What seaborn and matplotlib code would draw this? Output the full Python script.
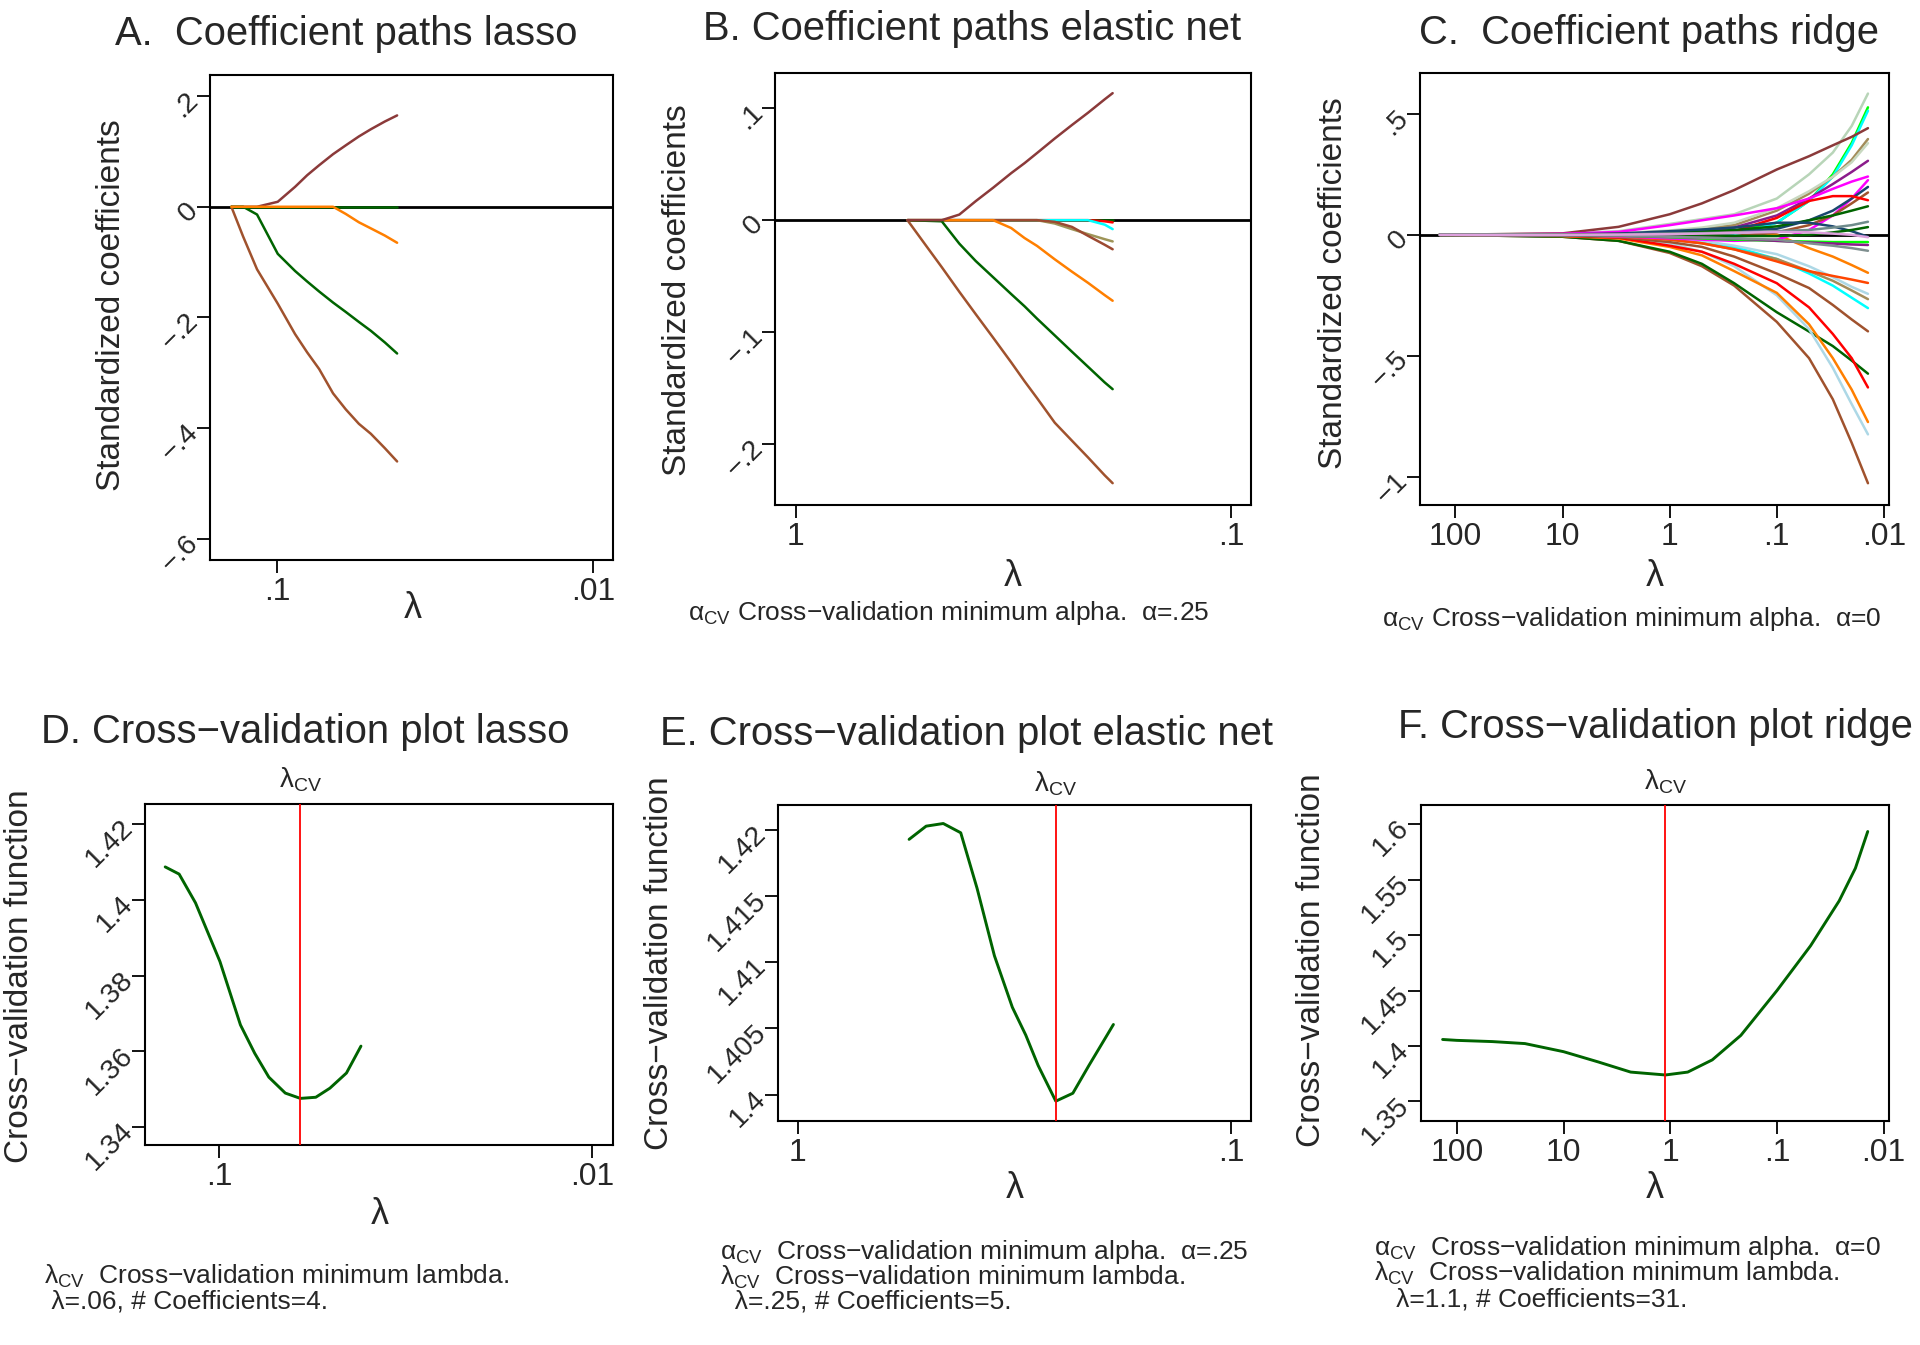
import numpy as np
import pandas as pd
import matplotlib
matplotlib.use("Agg")
import matplotlib.pyplot as plt
import seaborn as sns

sns.set_theme(style="ticks")
plt.rcParams['font.family'] = ['Liberation Sans', 'DejaVu Sans']
plt.rcParams['mathtext.default'] = 'regular'

# ---------------- data ----------------
# Panel A / D : lasso lambda grid
lamA = [0.1395, 0.128, 0.1157, 0.0995, 0.0877, 0.0803, 0.0736, 0.0665, 0.0606, 0.0551, 0.0505, 0.0456, 0.0417]
A_zero = [0.0] * 13
A_maroon = [0, 0, 0, 0.009, 0.036, 0.057, 0.075, 0.095, 0.111, 0.127, 0.140, 0.154, 0.165]
A_sienna = [0, -0.054, -0.113, -0.175, -0.230, -0.263, -0.293, -0.337, -0.366, -0.392, -0.410, -0.436, -0.460]
A_green = [0, 0, -0.014, -0.085, -0.116, -0.135, -0.153, -0.173, -0.190, -0.208, -0.224, -0.245, -0.265]
A_orange = [0, 0, 0, 0, 0, 0, 0, 0, -0.013, -0.028, -0.039, -0.052, -0.065]
cvA = [1.4087, 1.4068, 1.3992, 1.3837, 1.3670, 1.3595, 1.3532, 1.3490, 1.3476, 1.3479, 1.3503, 1.3543, 1.3614]

# Panel B / E : elastic net lambda grid
lamB = [0.554, 0.506, 0.462, 0.421, 0.386, 0.352, 0.320, 0.298, 0.279, 0.254, 0.232, 0.213, 0.195, 0.187]
B_zero = [0.0] * 14
B_maroon = [0, 0, 0, 0.005, 0.017, 0.029, 0.042, 0.051, 0.060, 0.073, 0.085, 0.096, 0.108, 0.1135]
B_sienna = [0, -0.021, -0.042, -0.064, -0.084, -0.105, -0.127, -0.144, -0.159, -0.181, -0.197, -0.212, -0.228, -0.235]
B_green = [0, -0.0005, -0.001, -0.021, -0.0365, -0.051, -0.066, -0.077, -0.088, -0.103, -0.1175, -0.131, -0.145, -0.151]
B_orange = [0, 0, 0, 0, 0, 0, -0.007, -0.016, -0.023, -0.035, -0.046, -0.056, -0.067, -0.072]
B_brown = [0, 0, 0, 0, 0, 0, 0, 0, 0, -0.0015, -0.006, -0.014, -0.022, -0.026]
B_olive = [0, 0, 0, 0, 0, 0, 0, 0, 0, -0.003, -0.008, -0.0125, -0.017, -0.019]
B_cyan = [0, 0, 0, 0, 0, 0, 0, 0, 0, 0, 0, 0, -0.004, -0.008]
B_red = [0, 0, 0, 0, 0, 0, 0, 0, 0, 0, 0, 0, -0.001, -0.002]
cvB = [1.4193, 1.4203, 1.4205, 1.4198, 1.4156, 1.4105, 1.4066, 1.4045, 1.4022, 1.3995, 1.4001, 1.4022, 1.4043, 1.4053]

# Panel C : ridge lambda grid and 31 coefficient paths
lamC = [140, 10, 3, 1, 0.5, 0.25, 0.1, 0.05, 0.03, 0.02, 0.0141]
C_paths = {
    "v01": [0, -0.008, -0.025, -0.075, -0.13, -0.21, -0.36, -0.51, -0.68, -0.86, -1.027],
    "v02": [0, -0.008, -0.025, -0.07, -0.12, -0.20, -0.32, -0.40, -0.46, -0.52, -0.574],
    "v03": [0, -0.004, -0.012, -0.035, -0.07, -0.13, -0.25, -0.39, -0.55, -0.70, -0.825],
    "v04": [0, -0.005, -0.015, -0.05, -0.085, -0.15, -0.24, -0.37, -0.51, -0.64, -0.774],
    "v05": [0, -0.004, -0.012, -0.045, -0.07, -0.12, -0.20, -0.30, -0.41, -0.51, -0.631],
    "v06": [0, -0.003, -0.01, -0.03, -0.05, -0.09, -0.16, -0.22, -0.29, -0.35, -0.399],
    "v07": [0, -0.002, -0.005, -0.015, -0.03, -0.05, -0.10, -0.16, -0.21, -0.26, -0.303],
    "v08": [0, -0.002, -0.005, -0.015, -0.025, -0.045, -0.08, -0.13, -0.175, -0.215, -0.244],
    "v09": [0, -0.002, -0.006, -0.02, -0.035, -0.06, -0.10, -0.15, -0.19, -0.23, -0.266],
    "v10": [0, -0.002, -0.006, -0.02, -0.035, -0.06, -0.11, -0.15, -0.17, -0.185, -0.199],
    "v11": [0, 0.001, 0.004, 0.01, 0.015, 0.02, 0.0, -0.055, -0.09, -0.125, -0.157],
    "v12": [0, 0.005, 0.015, 0.045, 0.065, 0.085, 0.15, 0.25, 0.34, 0.45, 0.584],
    "v13": [0, 0.001, 0.003, 0.008, 0.01, 0.015, 0.05, 0.14, 0.25, 0.38, 0.527],
    "v14": [0, 0, -0.002, -0.004, -0.005, -0.003, 0.05, 0.14, 0.24, 0.37, 0.513],
    "v15": [0, 0.006, 0.033, 0.085, 0.13, 0.185, 0.27, 0.325, 0.37, 0.405, 0.441],
    "v16": [0, 0.002, 0.006, 0.015, 0.025, 0.04, 0.10, 0.17, 0.24, 0.31, 0.396],
    "v17": [0, 0.002, 0.006, 0.018, 0.03, 0.05, 0.11, 0.18, 0.24, 0.30, 0.379],
    "v18": [0, 0.001, 0.003, 0.008, 0.015, 0.03, 0.08, 0.15, 0.21, 0.26, 0.306],
    "v19": [0, 0.004, 0.012, 0.04, 0.06, 0.08, 0.11, 0.15, 0.19, 0.22, 0.241],
    "v20": [0, -0.002, -0.006, -0.015, -0.02, -0.025, -0.02, 0.02, 0.08, 0.15, 0.226],
    "v21": [0, 0.001, 0.003, 0.008, 0.012, 0.015, 0.025, 0.06, 0.10, 0.15, 0.198],
    "v22": [0, 0, 0, 0, -0.002, -0.005, 0.01, 0.04, 0.08, 0.13, 0.175],
    "v23": [0, 0.001, 0.003, 0.005, 0.008, 0.015, 0.07, 0.14, 0.16, 0.16, 0.143],
    "v24": [0, 0.001, 0.003, 0.008, 0.013, 0.02, 0.035, 0.06, 0.08, 0.10, 0.118],
    "v25": [0, 0.002, 0.005, 0.015, 0.022, 0.03, 0.05, 0.05, 0.035, 0.015, -0.008],
    "v26": [0, 0.001, 0.002, 0.005, 0.007, 0.01, 0.015, 0.02, 0.03, 0.04, 0.054],
    "v27": [0, 0, 0, 0, -0.002, -0.005, -0.005, 0.0, 0.01, 0.02, 0.032],
    "v28": [0, -0.001, -0.004, -0.01, -0.015, -0.02, -0.025, -0.028, -0.03, -0.03, -0.03],
    "v29": [0, -0.001, -0.003, -0.008, -0.012, -0.015, -0.025, -0.032, -0.036, -0.04, -0.042],
    "v30": [0, -0.001, -0.003, -0.008, -0.012, -0.015, -0.02, -0.035, -0.045, -0.055, -0.066],
    "v31": [0, 0, 0.001, 0.003, 0.005, 0.008, 0.012, 0.01, 0.005, 0.0, -0.01],
}
C_colors = {
    "v01": "#A0522D", "v02": "#006400", "v03": "#ADD8E6", "v04": "#FF7F00", "v05": "#FF0000",
    "v06": "#A0522D", "v07": "#00FFFF", "v08": "#ADD8E6", "v09": "#A38C5A", "v10": "#FF4500",
    "v11": "#FF7F00", "v12": "#B8D5B8", "v13": "#00FF00", "v14": "#00FFFF", "v15": "#8B3A3A",
    "v16": "#A38C5A", "v17": "#C8D8C0", "v18": "#8B1C8B", "v19": "#FF00FF", "v20": "#FF00FF",
    "v21": "#1A476F", "v22": "#A0522D", "v23": "#FF0000", "v24": "#006400", "v25": "#1A476F",
    "v26": "#6F8C8C", "v27": "#006400", "v28": "#00FF00", "v29": "#8B1C8B", "v30": "#7F8F8F",
    "v31": "#DDA0DD",
}

# Panel F : ridge cross-validation
lamF = [136, 100, 46.5, 23.0, 10.0, 4.75, 2.35, 1.11, 0.686, 0.404, 0.218, 0.1, 0.0484, 0.0261, 0.0184, 0.0141]
cvF = [1.4059, 1.4051, 1.4040, 1.4022, 1.3949, 1.3857, 1.3765, 1.3739, 1.3765, 1.3875, 1.4096, 1.4500, 1.4904, 1.5309, 1.5603, 1.5934]

lam_cv = {"D": 0.0606, "E": 0.254, "F": 1.11}

# tick definitions
xt_A = [0.1, 0.01]; xl_A = [".1", ".01"]
yt_A = [0.2, 0, -0.2, -0.4, -0.6]; yl_A = [".2", "0", "\u2212.2", "\u2212.4", "\u2212.6"]
xt_B = [1, 0.1]; xl_B = ["1", ".1"]
yt_B = [0.1, 0, -0.1, -0.2]; yl_B = [".1", "0", "\u2212.1", "\u2212.2"]
xt_C = [100, 10, 1, 0.1, 0.01]; xl_C = ["100", "10", "1", ".1", ".01"]
yt_C = [0.5, 0, -0.5, -1]; yl_C = [".5", "0", "\u2212.5", "\u22121"]
yt_D = [1.42, 1.40, 1.38, 1.36, 1.34]; yl_D = ["1.42", "1.4", "1.38", "1.36", "1.34"]
yt_E = [1.42, 1.415, 1.41, 1.405, 1.40]; yl_E = ["1.42", "1.415", "1.41", "1.405", "1.4"]
yt_F = [1.6, 1.55, 1.5, 1.45, 1.4, 1.35]; yl_F = ["1.6", "1.55", "1.5", "1.45", "1.4", "1.35"]

# ---------------- figure ----------------
W, H = 1920, 1345
fig = plt.figure(figsize=(W / 100, H / 100), dpi=100)
fig.patch.set_facecolor("white")

XTICK_FS = 23
YTICK_FS = 20.5
LAB_FS = 24
TITLE_FS = 28.8
NOTE_FS = 19
LW = 1.8


def add_ax(l, r, t, b):
    return fig.add_axes([l / W, 1 - b / H, (r - l) / W, (b - t) / H])


def ftext(x, y, s, **kw):
    return fig.text(x / W, 1 - y / H, s, **kw)


def style_ax(ax, xlim, ylim, xt, xl, yt, yl):
    ax.set_xscale("log")
    ax.set_xlim(*xlim)
    ax.set_ylim(*ylim)
    ax.minorticks_off()
    ax.set_xticks(xt)
    ax.set_xticklabels(xl, fontsize=XTICK_FS)
    ax.set_yticks(yt)
    ax.set_yticklabels(yl, fontsize=YTICK_FS, rotation=45, ha="right", va="center",
                       rotation_mode="anchor")
    ax.tick_params(axis="x", length=9.5, width=1.3, pad=3, color="black")
    ax.tick_params(axis="y", length=9.5, width=1.3, pad=2, color="black")
    ax.set_xlabel("")
    ax.set_ylabel("")
    for sp in ax.spines.values():
        sp.set_visible(True)
        sp.set_linewidth(1.5)
        sp.set_color("black")
    ax.set_facecolor("white")
    ax.grid(False)


def paths(ax, lam, series, colors):
    rows = []
    for name, vals in series.items():
        for l, v in zip(lam, vals):
            rows.append((name, l, v))
    df = pd.DataFrame(rows, columns=["var", "lam", "coef"])
    ax.axhline(0, color="black", lw=2.0, zorder=1)
    sns.lineplot(data=df, x="lam", y="coef", hue="var", palette=colors, estimator=None,
                 sort=False, legend=False, lw=LW, ax=ax, zorder=2)


# Panel A
axA = add_ax(210, 613, 75, 560)
paths(axA, lamA,
      {"zero": A_zero, "maroon": A_maroon, "sienna": A_sienna, "green": A_green, "orange": A_orange},
      {"zero": "#006400", "maroon": "#8B3A3A", "sienna": "#A0522D", "green": "#006400", "orange": "#FF7F00"})
style_ax(axA, (0.163, 0.00865), (-0.638, 0.238), xt_A, xl_A, yt_A, yl_A)

# Panel B
axB = add_ax(775, 1251, 73, 505)
paths(axB, lamB,
      {"zero": B_zero, "red": B_red, "cyan": B_cyan, "olive": B_olive, "brown": B_brown,
       "orange": B_orange, "green": B_green, "sienna": B_sienna, "maroon": B_maroon},
      {"zero": "#006400", "red": "#FF0000", "cyan": "#00FFFF", "olive": "#9E9458", "brown": "#9C4A32",
       "orange": "#FF7F00", "green": "#006400", "sienna": "#A0522D", "maroon": "#8B3A3A"})
style_ax(axB, (1.117, 0.0899), (-0.2545, 0.1315), xt_B, xl_B, yt_B, yl_B)

# Panel C
axC = add_ax(1420, 1889, 73, 505)
paths(axC, lamC, C_paths, C_colors)
style_ax(axC, (214, 0.00897), (-1.117, 0.669), xt_C, xl_C, yt_C, yl_C)


def cvplot(ax, lam, cv, lcv):
    df = pd.DataFrame({"lam": lam, "cv": cv})
    sns.lineplot(data=df, x="lam", y="cv", estimator=None, sort=False, color="#006400",
                 lw=LW + 0.3, ax=ax, zorder=2)
    ax.axvline(lcv, color="#FF0000", lw=1.3, zorder=3)


axD = add_ax(145, 613, 804, 1145)
cvplot(axD, lamA, cvA, lam_cv["D"])
style_ax(axD, (0.158, 0.00881), (1.3353, 1.4253), xt_A, xl_A, yt_D, yl_D)

axE = add_ax(778, 1251, 805, 1121)
cvplot(axE, lamB, cvB, lam_cv["E"])
style_ax(axE, (1.112, 0.09), (1.398, 1.4219), xt_B, xl_B, yt_E, yl_E)

axF = add_ax(1421, 1889, 805, 1121)
cvplot(axF, lamF, cvF, lam_cv["F"])
style_ax(axF, (216.8, 0.00891), (1.3324, 1.6173), xt_C, xl_C, yt_F, yl_F)

# ---------------- texts ----------------
ftext(346, 45, "A.  Coefficient paths lasso", fontsize=TITLE_FS, ha="center", va="baseline")
ftext(972, 40, "B. Coefficient paths elastic net", fontsize=TITLE_FS, ha="center", va="baseline")
ftext(1649, 44, "C.  Coefficient paths ridge", fontsize=TITLE_FS, ha="center", va="baseline")
ftext(305, 743, "D. Cross\u2212validation plot lasso", fontsize=TITLE_FS, ha="center", va="baseline")
ftext(967, 745, "E. Cross\u2212validation plot elastic net", fontsize=TITLE_FS, ha="center", va="baseline")
ftext(1655, 738, "F. Cross\u2212validation plot ridge", fontsize=TITLE_FS, ha="center", va="baseline")

for x, y in [(112, 305), (677, 290), (1333, 283)]:
    ftext(x, y, "Standardized coefficients", fontsize=LAB_FS, rotation=90, ha="center", va="center")
for x, y in [(20, 976), (660, 963), (1311, 960)]:
    ftext(x, y, "Cross\u2212validation function", fontsize=LAB_FS, rotation=90, ha="center", va="center")

for x, y in [(413, 609), (1013, 576), (1655, 576), (380, 1215), (1015, 1188), (1655, 1188)]:
    ftext(x, y, "\u03bb", fontsize=26, ha="center", va="center")

LCV = "\u03bb$_{CV}$"
ACV = "\u03b1$_{CV}$"
for x, y in [(301, 788), (1056, 791), (1666, 789)]:
    ftext(x, y, LCV, fontsize=20, ha="center", va="baseline")

ftext(688, 620, ACV + " Cross\u2212validation minimum alpha.  \u03b1=.25", fontsize=NOTE_FS, ha="left", va="baseline")
ftext(1382, 626, ACV + " Cross\u2212validation minimum alpha.  \u03b1=0", fontsize=NOTE_FS, ha="left", va="baseline")

ftext(44, 1284, LCV + "  Cross\u2212validation minimum lambda.", fontsize=NOTE_FS, ha="left", va="baseline")
ftext(44, 1308, " \u03bb=.06, # Coefficients=4.", fontsize=NOTE_FS, ha="left", va="baseline")

ftext(720, 1259, ACV + "  Cross\u2212validation minimum alpha.  \u03b1=.25", fontsize=NOTE_FS, ha="left", va="baseline")
ftext(720, 1285, LCV + "  Cross\u2212validation minimum lambda.", fontsize=NOTE_FS, ha="left", va="baseline")
ftext(720, 1309, "  \u03bb=.25, # Coefficients=5.", fontsize=NOTE_FS, ha="left", va="baseline")

ftext(1374, 1255, ACV + "  Cross\u2212validation minimum alpha.  \u03b1=0", fontsize=NOTE_FS, ha="left", va="baseline")
ftext(1374, 1281, LCV + "  Cross\u2212validation minimum lambda.", fontsize=NOTE_FS, ha="left", va="baseline")
ftext(1374, 1306, "   \u03bb=1.1, # Coefficients=31.", fontsize=NOTE_FS, ha="left", va="baseline")

fig.savefig("out.png", dpi=100, facecolor="white")
